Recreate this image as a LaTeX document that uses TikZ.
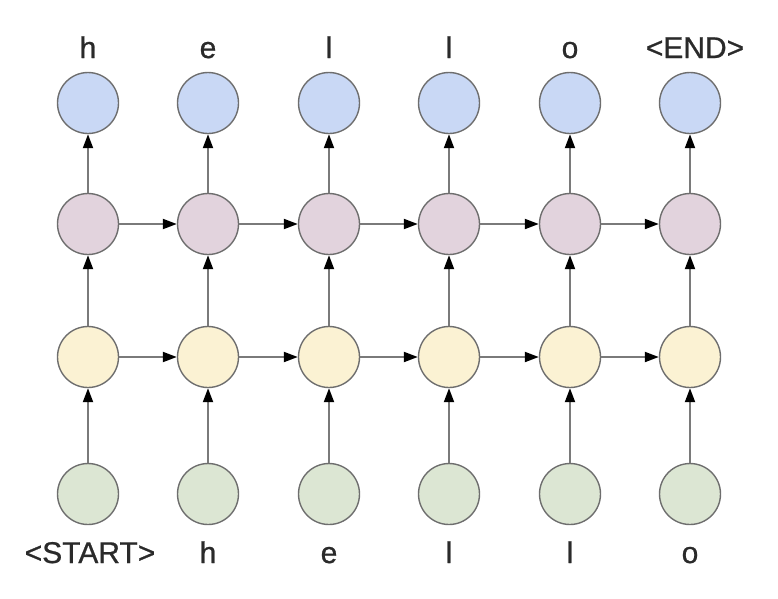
\documentclass[tikz,border=0pt]{standalone}
\usepackage{fontspec}
\setmainfont{Liberation Sans}
\newfontfamily\lblfont{Liberation Sans}[FakeBold=0.8]
\usetikzlibrary{arrows.meta}
\definecolor{cblue}{HTML}{C9D8F5}
\definecolor{cpurple}{HTML}{E2D3DD}
\definecolor{cyellow}{HTML}{FBF2D3}
\definecolor{cgreen}{HTML}{DCE6D3}
\definecolor{cborder}{HTML}{6E6E6E}
\definecolor{cline}{HTML}{7A7A7A}
\definecolor{ctext}{HTML}{2A2A2A}
\tikzset{
  cell/.style={circle, draw=cborder, line width=1.4pt, minimum size=61pt, inner sep=0pt},
  conn/.style={draw=cline, line width=2pt, -{Triangle[length=14pt,width=10pt,fill=black,color=black]}},
  lbl/.style={font=\lblfont\fontsize{30}{31}\selectfont, text=ctext, inner sep=0pt, anchor=base}
}
\begin{document}
\begin{tikzpicture}[x=1pt,y=-1pt]
\useasboundingbox (0,0) rectangle (778,598);
\foreach \i/\x in {1/88,2/208,3/329,4/449,5/570,6/690}{
  \node[cell, fill=cblue] (b\i) at (\x,103) {};
  \node[cell, fill=cpurple] (p\i) at (\x,224) {};
  \node[cell, fill=cyellow] (y\i) at (\x,357) {};
  \node[cell, fill=cgreen] (g\i) at (\x,494) {};
  \draw[conn] (g\i) -- (y\i);
  \draw[conn] (y\i) -- (p\i);
  \draw[conn] (p\i) -- (b\i);
}
\foreach \i/\j in {1/2,2/3,3/4,4/5,5/6}{
  \draw[conn] (p\i) -- (p\j);
  \draw[conn] (y\i) -- (y\j);
}
\node[lbl] (t1) at (88,58) {h};
\node[lbl] (t2) at (208,58) {e};
\node[lbl] (t3) at (329,58) {l};
\node[lbl] (t4) at (449,58) {l};
\node[lbl] (t5) at (570,58) {o};
\node[lbl] (t6) at (695,58) {<END>};
\node[lbl] (s1) at (90,563) {<START>};
\node[lbl] (s2) at (208,563) {h};
\node[lbl] (s3) at (329,563) {e};
\node[lbl] (s4) at (449,563) {l};
\node[lbl] (s5) at (570,563) {l};
\node[lbl] (s6) at (690,563) {o};
\end{tikzpicture}
\end{document}
